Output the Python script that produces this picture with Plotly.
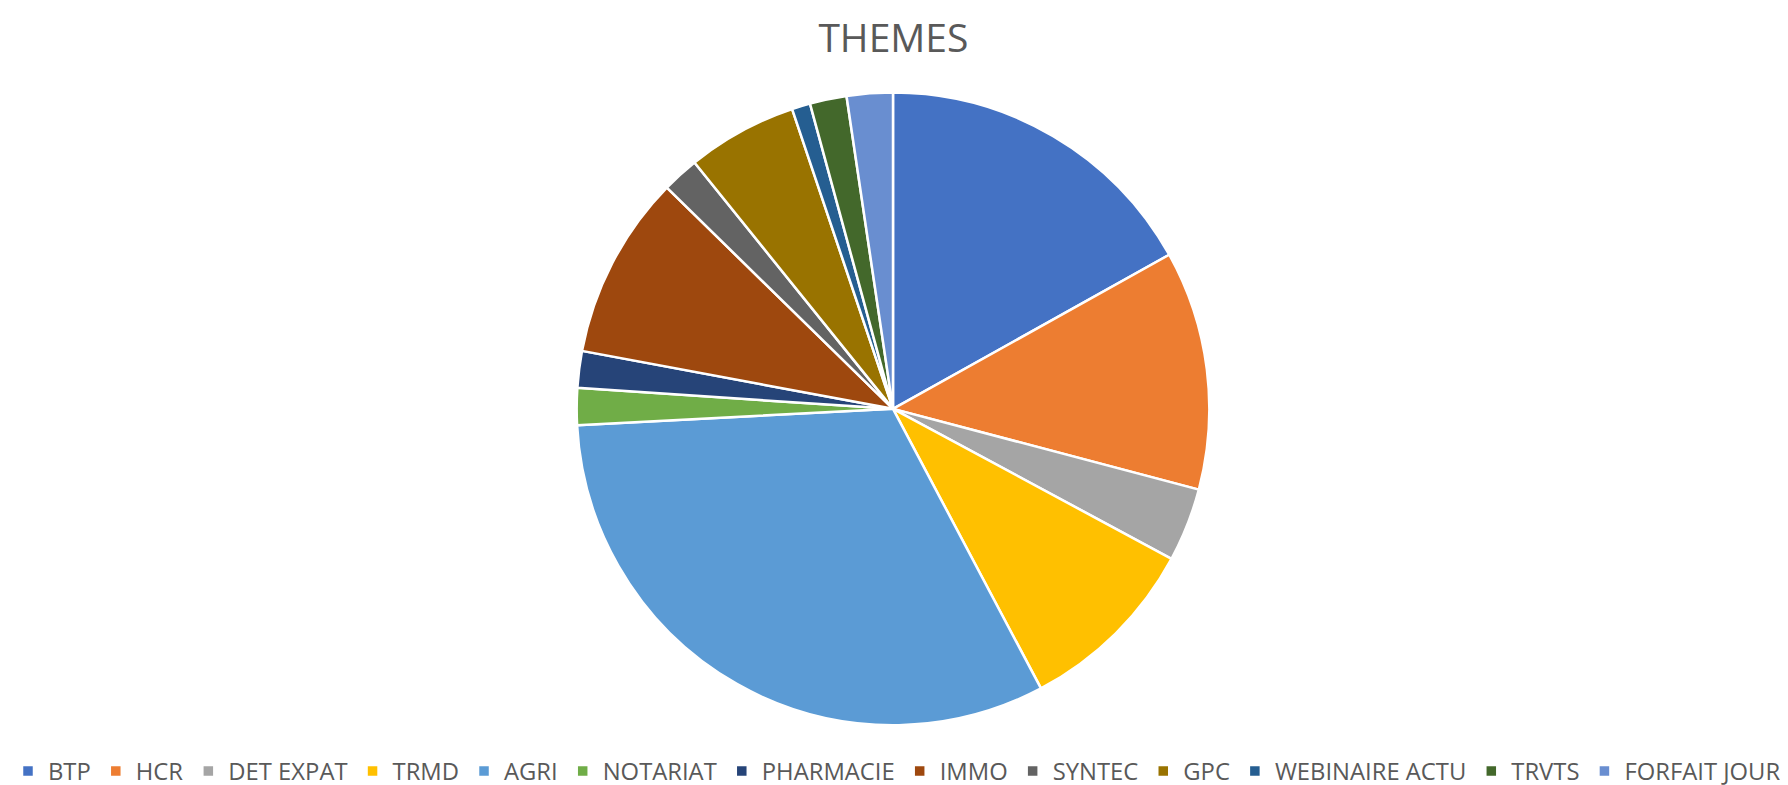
import plotly.graph_objects as go

categories = ["BTP", "HCR", "DET EXPAT", "TRMD", "AGRI", "NOTARIAT", "PHARMACIE",
              "IMMO", "SYNTEC", "GPC", "WEBINAIRE ACTU", "TRVTS", "FORFAIT JOUR"]
values = [36, 26, 8, 20, 68, 4, 4, 20, 4, 12, 2, 4, 5]
colors = ["#4472C4", "#ED7D31", "#A5A5A5", "#FFC000", "#5B9BD5", "#70AD47", "#264478",
          "#9E480E", "#636363", "#997300", "#255E91", "#43682B", "#698ED0"]

W, H = 1788, 785
cx, cy, r = 885, 405.5, 320

fig = go.Figure(go.Pie(
    labels=categories,
    values=values,
    sort=False,
    direction="clockwise",
    rotation=0,
    textinfo="none",
    hoverinfo="label+value+percent",
    marker=dict(colors=colors, line=dict(color="white", width=2.5)),
    domain=dict(x=[(cx - r) / W, (cx + r) / W],
                y=[(H - cy - r) / H, (H - cy + r) / H]),
))

fig.update_layout(
    width=W, height=H,
    margin=dict(l=0, r=0, t=0, b=0),
    paper_bgcolor="white",
    plot_bgcolor="white",
    title=dict(text="THEMES", x=0.4952, xanchor="center", y=1 - 30 / H, yanchor="middle",
               font=dict(family="Open Sans", size=39, color="#595959")),
    legend=dict(orientation="h", x=0.497, xanchor="center", y=(H - 772) / H, yanchor="middle",
                font=dict(family="Open Sans", size=23.8, color="#595959"),
                itemwidth=30, tracegroupgap=0),
)

fig.write_html("out.html")
